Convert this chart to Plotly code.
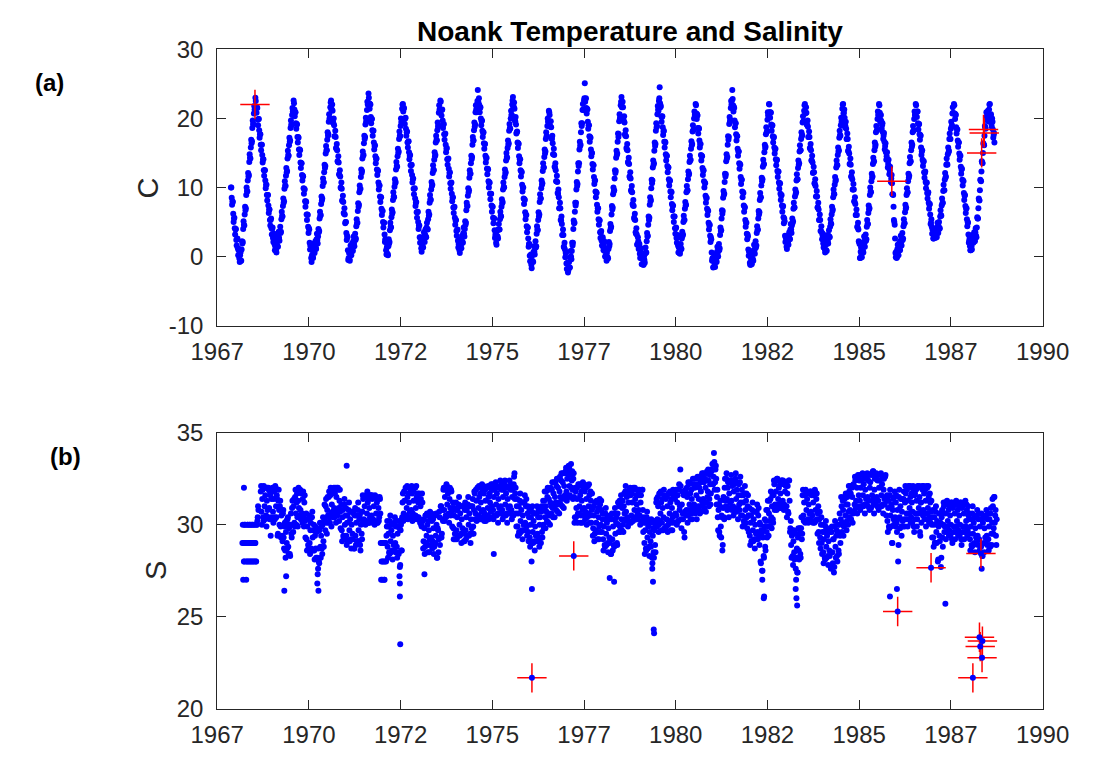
import plotly.graph_objects as go

# ============ data (weekly samples, 48 per year) ============
# Temperature (deg C): main weekly readings
temp_1967 = [10.0, 8.5, 8.0, 6.2, 5.5, 4.1]
temp_1968 = [3.9, 2.4, 2.5, 1.2, 0.9, -0.3, 0.2, -0.6, 1.0, 1.9, 4.0, 4.6, 6.1, 6.7, 8.9, 9.5, 11.0, 11.6, 13.7, 14.3, 15.8, 16.4, 18.6, 19.2, 20.7, 21.3, 23.0, 21.7, 21.6, 19.8, 19.9, 18.3, 17.7, 16.2, 16.2, 14.7, 14.1, 12.5, 12.5, 11.0, 10.4, 8.9, 8.9, 7.4, 6.8, 5.3, 5.3, 4.1]
temp_1969 = [4.0, 2.7, 3.1, 1.8, 1.5, 0.9, 1.8, 1.5, 2.9, 2.7, 3.5, 3.4, 5.4, 5.9, 7.3, 7.8, 9.8, 10.3, 11.7, 12.2, 14.2, 14.7, 16.1, 16.6, 18.6, 19.1, 20.5, 21.0, 22.6, 21.3, 20.9, 19.3, 19.2, 17.3, 17.3, 15.5, 15.5, 13.6, 13.5, 11.8, 11.7, 9.9, 9.8, 8.0, 8.0, 6.1, 6.1, 4.3]
temp_1970 = [4.1, 2.0, 1.6, -0.2, 0.2, 0.0, 1.2, 1.0, 1.5, 1.3, 2.5, 2.4, 2.9, 3.5, 5.5, 5.9, 7.6, 8.1, 10.2, 10.8, 12.2, 12.8, 14.9, 15.4, 16.9, 17.5, 19.5, 20.0, 21.6, 22.6, 21.3, 21.1, 19.3, 19.0, 17.4, 17.3, 15.6, 15.4, 13.7, 13.6, 11.8, 11.6, 9.9, 9.8, 8.0, 7.9, 6.2, 6.1]
temp_1971 = [5.0, 3.4, 3.0, 0.9, -0.2, -0.4, 0.8, 0.7, 1.2, 0.9, 2.2, 1.9, 2.6, 2.4, 4.4, 4.8, 6.6, 7.2, 9.3, 9.7, 11.5, 12.1, 14.2, 14.6, 16.4, 17.0, 19.1, 19.5, 21.2, 22.0, 23.6, 22.2, 22.1, 20.2, 19.9, 18.3, 18.2, 16.5, 16.0, 14.5, 14.1, 12.6, 12.5, 10.7, 10.3, 8.7, 8.6, 6.9]
temp_1972 = [6.6, 5.0, 4.9, 3.2, 2.5, 0.9, 1.3, 0.4, 1.5, 1.9, 3.8, 4.3, 5.7, 6.2, 8.2, 8.7, 10.1, 10.6, 12.6, 13.1, 14.5, 15.0, 17.0, 17.5, 18.9, 19.4, 21.4, 22.1, 21.4, 19.9, 20.0, 18.5, 18.0, 16.5, 16.6, 15.1, 14.6, 13.2, 13.2, 11.8, 11.2, 9.8, 9.8, 8.4, 7.8, 6.4, 6.4, 5.0]
temp_1973 = [4.5, 2.8, 2.7, 1.2, 1.7, 1.4, 2.7, 2.6, 3.2, 2.9, 4.2, 4.0, 5.4, 5.9, 7.8, 8.3, 9.7, 10.2, 12.1, 12.6, 14.0, 14.5, 16.5, 16.9, 18.3, 18.8, 20.8, 21.3, 22.6, 21.2, 21.2, 19.7, 19.1, 17.7, 17.7, 16.2, 15.6, 14.1, 14.1, 12.7, 12.1, 10.6, 10.6, 9.1, 8.5, 7.1, 7.1, 5.6]
temp_1974 = [5.2, 3.7, 3.8, 2.3, 1.8, 0.9, 1.7, 1.7, 2.3, 2.1, 3.4, 3.3, 4.0, 4.6, 6.7, 7.3, 8.8, 9.3, 11.4, 12.0, 13.5, 14.1, 16.2, 16.8, 18.3, 18.8, 20.9, 21.3, 22.0, 24.1, 22.2, 21.9, 21.5, 20.0, 19.6, 18.2, 17.9, 16.4, 16.3, 14.6, 14.2, 12.7, 12.7, 10.9, 10.6, 9.1, 9.1, 7.4]
temp_1975 = [7.2, 5.6, 5.5, 3.8, 3.1, 2.0, 3.0, 2.9, 3.9, 3.9, 5.4, 5.9, 7.2, 7.7, 9.7, 10.1, 11.5, 12.0, 13.9, 14.4, 15.7, 16.2, 18.2, 18.6, 20.0, 20.5, 22.0, 23.1, 21.7, 21.4, 19.6, 19.1, 18.0, 16.5, 16.4, 14.5, 14.1, 12.5, 12.3, 10.4, 10.0, 8.4, 8.3, 6.4, 6.0, 4.4, 4.2, 2.6]
temp_1976 = [1.8, 0.1, 0.1, -1.2, -0.6, -0.7, 0.7, 0.7, 1.4, 1.3, 3.3, 3.9, 5.3, 5.8, 7.9, 8.4, 9.9, 10.4, 12.4, 12.9, 14.4, 14.9, 17.0, 17.4, 18.9, 19.5, 21.1, 20.5, 18.8, 18.7, 17.0, 16.4, 14.8, 14.7, 12.9, 12.5, 10.9, 10.8, 9.1, 8.6, 7.0, 7.0, 5.2, 4.7, 3.1, 3.1, 1.3, 1.0]
temp_1977 = [0.5, -1.0, -1.0, -2.3, -1.6, -1.6, -0.1, 0.0, 0.8, 1.6, 4.0, 4.8, 6.5, 7.4, 9.7, 10.2, 12.3, 13.1, 15.5, 16.0, 18.0, 18.9, 21.2, 21.3, 22.6, 25.1, 22.8, 21.5, 21.4, 19.5, 19.0, 17.4, 17.3, 15.5, 15.0, 13.4, 13.3, 11.5, 11.0, 9.4, 9.3, 7.5, 7.0, 5.4, 5.3, 3.5, 3.4, 2.3]
temp_1978 = [2.5, 1.4, 1.9, 0.8, 0.8, -0.1, 0.5, -0.1, 1.1, 1.5, 3.7, 4.1, 6.1, 6.8, 9.0, 9.4, 11.3, 12.1, 14.3, 14.7, 16.6, 17.3, 19.6, 20.0, 21.9, 23.1, 21.7, 21.6, 19.6, 19.4, 17.5, 17.4, 15.5, 15.4, 13.5, 13.4, 11.4, 11.3, 9.4, 9.3, 7.4, 7.3, 5.4, 5.3, 3.3, 3.2, 1.8, 2.2]
temp_1979 = [1.6, 0.4, 0.9, -0.2, -0.3, -1.0, -1.2, -0.5, 0.4, 0.6, 2.2, 2.9, 4.6, 5.3, 7.5, 8.0, 9.9, 10.6, 12.9, 13.3, 15.3, 16.0, 18.2, 18.7, 20.6, 21.3, 22.5, 24.5, 21.6, 20.3, 20.2, 18.7, 18.1, 16.6, 16.6, 14.8, 14.5, 13.1, 12.9, 11.2, 10.9, 9.4, 9.4, 7.6, 7.3, 5.8, 5.8, 4.1]
temp_1980 = [4.1, 2.7, 3.0, 1.6, 1.3, 0.5, 0.9, 1.2, 2.6, 3.0, 5.0, 5.3, 6.9, 7.4, 9.3, 9.5, 11.2, 11.8, 13.7, 13.9, 15.6, 16.1, 18.1, 18.3, 20.0, 20.5, 22.1, 20.7, 20.6, 18.6, 18.6, 16.8, 16.3, 14.7, 14.6, 12.8, 12.4, 10.9, 10.7, 8.8, 8.4, 6.9, 6.7, 4.9, 4.5, 3.0, 2.8, 0.6]
temp_1981 = [-0.3, -1.6, -0.7, -1.0, -0.4, -0.6, 0.7, 0.5, 1.1, 0.9, 3.1, 3.7, 5.5, 6.2, 8.5, 8.9, 10.8, 11.6, 13.8, 14.2, 16.2, 16.9, 19.2, 19.6, 21.5, 22.0, 24.1, 21.9, 21.7, 19.7, 19.3, 17.7, 17.5, 15.6, 15.2, 13.5, 13.4, 11.5, 11.1, 9.4, 9.3, 7.4, 7.2, 5.3, 4.9, 3.3, 3.2, 1.0]
temp_1982 = [0.7, -0.9, -1.2, -1.0, -0.2, -0.4, 0.9, 0.9, 1.5, 1.3, 3.4, 3.8, 5.5, 6.1, 8.2, 8.5, 10.3, 10.9, 13.0, 13.3, 15.1, 15.7, 17.7, 18.0, 19.8, 20.4, 22.1, 20.9, 20.9, 19.1, 18.9, 17.4, 17.2, 15.8, 15.5, 14.1, 13.9, 12.4, 12.2, 10.7, 10.5, 9.1, 8.8, 7.4, 7.2, 5.7, 5.5, 3.0]
temp_1983 = [2.7, 1.4, 2.3, 2.1, 2.8, 2.6, 3.9, 3.9, 4.5, 4.9, 6.9, 7.1, 8.7, 9.1, 11.0, 11.2, 12.8, 13.3, 15.2, 15.4, 17.0, 17.4, 19.4, 19.6, 21.1, 22.1, 20.8, 20.8, 19.0, 18.8, 17.3, 17.3, 15.6, 15.4, 13.9, 13.6, 12.2, 12.2, 10.5, 10.2, 8.7, 8.7, 7.1, 6.8, 5.3, 5.3, 3.7, 3.5]
temp_1984 = [3.1, 1.9, 2.3, 1.1, 0.9, 0.9, 2.3, 2.3, 3.0, 2.9, 4.3, 4.8, 6.1, 6.6, 8.6, 9.1, 10.4, 10.9, 12.9, 13.3, 14.7, 15.2, 17.2, 17.6, 19.0, 19.5, 21.4, 22.1, 20.8, 20.1, 18.9, 18.5, 17.0, 17.0, 15.2, 14.9, 13.4, 13.3, 11.5, 11.2, 9.7, 9.7, 7.9, 7.6, 6.0, 6.0, 4.2, 3.9]
temp_1985 = [2.1, -0.2, 0.7, 0.3, 1.0, 0.8, 2.1, 2.0, 2.5, 2.3, 4.3, 4.7, 6.3, 6.8, 8.9, 9.4, 10.9, 11.4, 13.4, 13.7, 15.4, 15.9, 18.0, 18.2, 19.9, 20.5, 22.1, 20.8, 19.8, 19.6, 19.0, 18.0, 17.5, 16.6, 16.0, 15.1, 14.5, 14.0, 13.4, 12.9, 12.5, 11.9, 11.3, 10.6, 9.0, 7.2, 5.0, 2.6]
temp_1986 = [-0.1, -0.2, 1.1, 0.7, 1.3, 1.1, 2.3, 2.1, 2.7, 2.4, 4.4, 4.8, 6.4, 6.9, 8.9, 9.2, 10.9, 11.4, 13.5, 13.7, 15.4, 15.9, 18.0, 18.2, 19.9, 20.5, 22.1, 20.9, 21.0, 19.3, 19.1, 17.7, 17.6, 15.8, 15.2, 14.0, 13.7, 12.2, 12.1, 10.8, 10.6, 9.2, 9.1, 7.8, 7.5, 6.1, 4.9, 4.3]
temp_1987 = [3.9, 2.6, 3.3, 2.8, 3.4, 3.0, 4.2, 3.9, 4.4, 4.0, 5.8, 6.0, 7.4, 7.7, 9.5, 9.6, 11.1, 11.4, 13.3, 13.4, 14.8, 15.1, 17.0, 17.0, 18.5, 18.8, 20.7, 20.8, 22.1, 20.7, 20.6, 18.7, 18.4, 16.8, 16.5, 14.9, 14.6, 13.0, 12.6, 11.1, 11.0, 9.2, 8.8, 7.3, 6.9, 5.4, 5.0, 3.2]
temp_1988 = [2.3, 1.5, 0.9, 1.5, 2.0, 2.6, 3.0, 2.4, 3.5, 3.0, 4.2, 5.5, 7.0, 8.2, 9.6, 11.0, 12.3, 13.6, 15.0, 16.2, 17.5, 18.7, 19.8, 20.3, 20.9, 19.6, 21.3, 22.1, 20.4, 19.2, 20.0, 18.4, 17.6, 16.5]

# Temperature: second reading of each week (half a week later)
temp_mid_1967 = [10.0, 7.5, 7.9, 5.0, 5.6, 3.2]
temp_mid_1968 = [4.0, 1.6, 2.6, 0.2, 1.1, -0.8, 0.6, -0.6, 2.2, 2.1, 5.1, 4.5, 7.2, 7.0, 10.0, 9.4, 12.1, 11.8, 14.8, 14.2, 16.9, 16.7, 19.7, 19.1, 21.8, 21.3, 22.5, 20.8, 21.5, 19.0, 19.9, 17.2, 17.7, 15.4, 16.2, 13.6, 14.1, 11.7, 12.5, 9.9, 10.4, 8.1, 8.9, 6.3, 6.8, 4.5, 5.5, 3.2]
temp_mid_1969 = [4.2, 2.1, 3.3, 0.9, 2.0, 0.6, 2.5, 1.4, 3.6, 2.3, 4.3, 3.6, 6.5, 5.8, 8.4, 8.0, 10.9, 10.2, 12.8, 12.4, 15.3, 14.6, 17.2, 16.8, 19.7, 19.0, 21.5, 21.0, 22.2, 20.3, 20.9, 18.5, 19.1, 16.5, 17.2, 14.7, 15.4, 12.8, 13.5, 11.0, 11.6, 9.1, 9.7, 7.2, 7.9, 5.3, 6.0, 3.4]
temp_mid_1970 = [3.9, 1.0, 1.5, -0.8, 0.9, -0.2, 1.9, 0.5, 2.2, 1.1, 3.3, 1.9, 4.0, 3.7, 6.5, 6.0, 8.7, 8.4, 11.3, 10.7, 13.3, 13.1, 16.0, 15.4, 18.0, 17.7, 20.6, 20.0, 22.3, 21.2, 22.0, 19.4, 20.0, 17.4, 18.2, 15.7, 16.3, 13.8, 14.5, 11.9, 12.5, 10.0, 10.7, 8.1, 8.8, 6.3, 7.0, 4.8]
temp_mid_1971 = [5.0, 2.4, 2.8, -0.5, 0.5, -0.6, 1.6, 0.2, 1.9, 0.8, 2.9, 1.5, 3.3, 2.6, 5.4, 4.9, 7.7, 7.5, 10.3, 9.8, 12.6, 12.4, 15.2, 14.7, 17.5, 17.3, 20.1, 19.6, 22.4, 22.0, 23.0, 21.4, 22.0, 19.3, 19.9, 17.5, 18.2, 15.5, 16.1, 13.5, 14.2, 11.8, 12.4, 9.7, 10.3, 7.9, 8.6, 6.0]
temp_mid_1972 = [6.6, 4.2, 4.9, 2.1, 2.5, 0.3, 1.7, 0.2, 2.5, 2.1, 4.9, 4.2, 6.8, 6.4, 9.3, 8.6, 11.2, 10.8, 13.7, 13.0, 15.6, 15.2, 18.1, 17.4, 20.0, 19.6, 22.0, 21.0, 21.5, 19.2, 20.1, 17.5, 18.1, 15.8, 16.7, 14.1, 14.7, 12.4, 13.3, 10.7, 11.3, 9.0, 9.9, 7.3, 7.9, 5.6, 6.5, 4.0]
temp_mid_1973 = [4.5, 2.0, 2.8, 0.7, 2.4, 1.3, 3.5, 2.1, 3.9, 2.8, 4.9, 3.9, 6.5, 6.1, 8.9, 8.2, 10.8, 10.4, 13.2, 12.5, 15.1, 14.7, 17.5, 16.8, 19.4, 19.0, 21.9, 21.2, 22.4, 20.4, 21.3, 18.6, 19.2, 16.9, 17.8, 15.1, 15.7, 13.3, 14.2, 11.6, 12.2, 9.8, 10.7, 8.0, 8.6, 6.3, 7.2, 4.6]
temp_mid_1974 = [5.3, 3.0, 3.9, 1.3, 2.2, 0.5, 2.5, 1.2, 3.0, 2.0, 4.2, 2.9, 5.1, 4.9, 7.8, 7.3, 9.9, 9.6, 12.5, 12.0, 14.6, 14.4, 17.3, 16.8, 19.4, 19.1, 21.9, 20.9, 22.5, 22.4, 22.9, 20.9, 21.6, 19.0, 19.7, 17.3, 18.0, 15.6, 16.3, 13.6, 14.3, 11.9, 12.6, 10.0, 10.7, 8.3, 9.1, 6.5]
temp_mid_1975 = [7.2, 4.8, 5.5, 2.7, 3.4, 1.7, 3.8, 2.6, 4.7, 3.9, 6.5, 5.8, 8.3, 7.9, 10.7, 10.0, 12.6, 12.2, 15.0, 14.3, 16.8, 16.4, 19.2, 18.5, 21.1, 20.5, 22.6, 21.6, 22.3, 19.7, 20.2, 17.8, 18.1, 15.7, 16.3, 13.5, 14.1, 11.6, 12.2, 9.4, 10.0, 7.6, 8.2, 5.4, 6.0, 3.5, 4.2, 1.4]
temp_mid_1976 = [1.8, -0.7, 0.3, -1.7, 0.2, -0.8, 1.5, 0.3, 2.2, 1.5, 4.4, 3.8, 6.4, 6.1, 9.0, 8.4, 11.0, 10.6, 13.5, 12.9, 15.5, 15.2, 18.0, 17.4, 20.0, 19.5, 20.9, 18.9, 19.6, 17.1, 17.5, 14.8, 15.6, 13.0, 13.5, 10.9, 11.7, 9.2, 9.7, 7.0, 7.8, 5.3, 5.8, 3.1, 3.9, 1.4, 2.0, -0.1]
temp_mid_1977 = [0.6, -1.8, -0.9, -2.0, -0.8, -1.6, 0.8, -0.4, 2.0, 2.0, 5.2, 4.9, 7.8, 7.8, 10.8, 10.5, 13.5, 13.5, 16.6, 16.2, 19.3, 19.3, 22.1, 21.2, 22.9, 22.4, 22.9, 20.7, 21.3, 18.5, 19.0, 16.6, 17.2, 14.5, 15.0, 12.6, 13.2, 10.5, 11.0, 8.6, 9.2, 6.5, 7.0, 4.6, 5.2, 2.7, 3.7, 1.6]
temp_mid_1978 = [2.8, 0.9, 2.2, 0.0, 1.2, -0.6, 1.0, -0.3, 2.1, 1.8, 4.7, 4.3, 7.3, 7.1, 10.0, 9.6, 12.5, 12.4, 15.3, 14.9, 17.8, 17.7, 20.6, 20.2, 22.4, 21.6, 22.4, 19.8, 20.3, 17.7, 18.3, 15.7, 16.3, 13.7, 14.3, 11.6, 12.2, 9.6, 10.2, 7.6, 8.2, 5.6, 6.2, 3.5, 4.1, 1.7, 2.8, 1.1]
temp_mid_1979 = [1.8, -0.2, 1.2, -1.1, 0.2, -1.2, 0.0, -0.9, 1.3, 0.6, 3.4, 3.0, 5.8, 5.6, 8.6, 8.2, 11.1, 11.0, 13.9, 13.5, 16.5, 16.3, 19.3, 18.9, 21.8, 21.1, 22.9, 22.2, 21.8, 19.5, 20.3, 17.6, 18.2, 15.8, 16.5, 13.9, 14.6, 12.2, 12.9, 10.3, 11.0, 8.6, 9.3, 6.7, 7.4, 5.0, 5.8, 3.3]
temp_mid_1980 = [4.2, 2.0, 3.1, 0.6, 1.7, 0.4, 1.8, 1.1, 3.6, 3.2, 5.9, 5.3, 7.9, 7.5, 10.2, 9.6, 12.3, 12.0, 14.6, 14.0, 16.7, 16.3, 19.0, 18.4, 21.0, 20.5, 21.9, 19.9, 20.4, 17.8, 18.5, 15.8, 16.3, 13.9, 14.5, 11.8, 12.5, 10.0, 10.6, 7.8, 8.5, 6.0, 6.6, 3.9, 4.6, 2.1, 2.5, -0.6]
temp_mid_1981 = [-0.2, -1.5, 0.0, -1.5, 0.3, -0.8, 1.4, 0.0, 1.8, 1.2, 4.2, 3.8, 6.7, 6.6, 9.5, 9.1, 12.0, 11.9, 14.8, 14.4, 17.4, 17.3, 20.2, 19.8, 22.5, 22.6, 22.8, 21.0, 21.5, 18.7, 19.3, 16.8, 17.4, 14.6, 15.2, 12.7, 13.3, 10.5, 11.1, 8.6, 9.2, 6.5, 7.1, 4.3, 4.9, 2.5, 2.9, 0.1]
temp_mid_1982 = [0.7, -1.2, -0.3, -1.1, 0.5, -0.6, 1.7, 0.4, 2.2, 1.6, 4.4, 3.9, 6.6, 6.4, 9.2, 8.6, 11.4, 11.2, 14.0, 13.4, 16.2, 15.9, 18.7, 18.1, 20.9, 20.5, 22.0, 20.1, 20.8, 18.2, 19.0, 16.5, 17.3, 14.9, 15.6, 13.2, 14.0, 11.5, 12.3, 9.8, 10.6, 8.2, 8.9, 6.5, 7.3, 4.8, 5.1, 2.1]
temp_mid_1983 = [2.9, 1.1, 3.0, 1.7, 3.5, 2.5, 4.7, 3.4, 5.5, 5.1, 7.8, 7.1, 9.7, 9.3, 11.9, 11.2, 13.9, 13.5, 16.1, 15.4, 18.0, 17.6, 20.3, 19.6, 21.9, 20.7, 21.6, 19.1, 19.7, 17.3, 18.1, 15.7, 16.3, 13.9, 14.6, 12.1, 13.0, 10.6, 11.2, 8.7, 9.5, 7.1, 7.8, 5.3, 6.1, 3.7, 4.4, 2.5]
temp_mid_1984 = [3.3, 1.3, 2.5, 0.6, 1.7, 0.8, 3.1, 1.9, 3.8, 2.8, 5.4, 4.7, 7.2, 6.8, 9.7, 9.0, 11.5, 11.1, 13.9, 13.2, 15.8, 15.4, 18.2, 17.5, 20.1, 19.7, 22.0, 20.7, 21.3, 18.7, 19.5, 17.0, 17.8, 15.3, 15.9, 13.4, 14.2, 11.6, 12.2, 9.7, 10.5, 8.0, 8.6, 6.0, 6.8, 4.3, 4.9, 2.2]
temp_mid_1985 = [1.8, -0.2, 1.3, -0.1, 1.7, 0.6, 2.9, 1.4, 3.2, 2.5, 5.3, 4.7, 7.4, 7.0, 10.0, 9.3, 12.0, 11.6, 14.3, 13.8, 16.5, 16.2, 18.9, 18.3, 21.0, 20.5, 21.9, 19.5, 20.5, 18.5, 19.3, 17.0, 17.9, 15.5, 16.4, 14.0, 15.1, 12.9, 14.0, 11.9, 13.0, 10.8, 11.8, 9.0, 8.9, 5.3, 4.6, 0.5]
temp_mid_1986 = [0.7, -0.1, 1.7, 0.2, 2.0, 0.9, 3.0, 1.6, 3.4, 2.6, 5.4, 4.8, 7.5, 7.1, 9.9, 9.3, 12.0, 11.7, 14.4, 13.8, 16.5, 16.2, 18.9, 18.3, 21.0, 20.5, 21.9, 20.2, 21.0, 18.4, 19.2, 16.9, 17.5, 14.7, 15.4, 13.1, 13.8, 11.4, 12.3, 9.9, 10.7, 8.4, 9.3, 6.9, 7.6, 4.7, 5.4, 3.3]
temp_mid_1987 = [4.1, 2.6, 3.9, 2.7, 4.0, 2.8, 4.9, 3.4, 5.0, 4.1, 6.7, 5.9, 8.4, 7.8, 10.4, 9.6, 12.1, 11.6, 14.2, 13.3, 15.8, 15.3, 17.8, 17.0, 19.5, 19.0, 21.6, 20.7, 21.9, 19.9, 20.5, 17.8, 18.4, 15.9, 16.5, 14.0, 14.6, 12.0, 12.7, 10.3, 10.9, 8.2, 8.9, 6.3, 7.0, 4.4, 4.9, 2.0]
temp_mid_1988 = [2.7, 0.9, 2.0, 1.0, 3.1, 2.0, 3.5, 2.2, 4.1, 2.8, 5.7, 5.5, 8.4, 8.1, 11.1, 10.9, 13.8, 13.5, 16.4, 16.1, 18.9, 18.5, 20.9, 19.8, 21.1, 19.7, 22.0, 20.5, 20.6, 18.8, 19.5, 17.2, 17.9]

# Salinity: main weekly readings (None = no sample)
sal_1968 = [29, 27, 28, 30, 29, 27, 28, 30, 29, 28, 30, 29, 28, 30, 29, 28, 30, 29, 28, 30, 30.4, 30.8, None, None, 31.8, 30.7, 31.4, 30.4, 32.1, 31.0, 31.6, 30.5, 31.3, 30.8, 32.0, 30.9, 31.8, 29.4, 31.4]
sal_1969 = [31.8, 30.7, 31.4, 30.4, 32.1, 31.0, 31.6, 29.4, 31.3, 30.8, 31.0, 29.9, 30.5, 29.4, 30.6, 29.3, 29.9, 28.6, 29.6, 29.0, 30.3, 28.8, 29.8, 28.4, 30.0, 29.5, 30.9, 30.0, 31.0, 30.1, 31.5, 30.6, 31.2, 30.4, 31.3, 30.9, 31.9, 30.8, 31.7, 30.6, 31.4, 30.5, 31.2, 30.2, 30.3, 29.2, 29.9, 28.9]
sal_1970 = [30.3, 29.0, 29.7, 28.7, 30.4, 29.3, 29.7, 28.6, 29.4, 28.7, 29.6, 28.2, 27.6, 28.0, 29.7, 28.8, 29.4, 28.7, 30.0, 29.1, 30.2, 30.3, 31.0, 30.1, 30.8, 30.5, 31.5, 30.4, 31.6, 30.6, 31.1, 30.7, 31.9, 30.9, 31.7, 30.6, 31.5, 30.8, 32.0, 30.9, 31.3, 30.7, 30.8, 29.7, 30.4, 29.4, 31.1, 30.0]
sal_1971 = [30.5, 29.4, 30.1, 29.1, 30.8, 29.7, 30.3, 29.2, 30.0, 29.5, 30.7, 28.7, 30.5, 29.4, 30.1, 29.1, 30.8, 29.7, 30.3, 28.9, 30.0, 29.5, 30.7, 31.4, 30.3, 31.0, 30.0, 31.5, 30.6, 31.2, 30.1, 30.9, 30.4, 31.6, 30.5, 31.4, 30.3, 31.0, 30.0, 31.5, 30.6, 31.2, 30.1, 30.9, 30.4, 31.4, 29, 28]
sal_1972 = [27, 29, 28, 27, 29, 28, 29.9, 28.8, 29.5, 28.5, 30.2, 29.1, 29.7, 28.6, 29.4, 28.9, 30.1, 29.0, 29.9, 28.8, 29.5, 28.5, 30.2, 27.7, 29.7, 28.6, 30.4, 31.7, 30.6, 31.3, 30.3, 32.0, 30.9, 31.5, 30.4, 31.2, 30.7, 31.9, 30.8, 31.7, 30.6, 31.3, 30.3, 32.0, 30.9, 31.5, 30.4, 31.2]
sal_1973 = [31.4, 30.3, 31.0, 30.0, 31.7, 30.2, 29.1, 29.8, 28.8, 30.5, 29.4, 30.0, 28.9, 29.7, 29.2, 30.4, 29.3, 30.2, 29.1, 29.8, 28.8, 30.5, 29.4, 30.0, 28.2, 29.7, 29.2, 30.4, 29.3, 31.0, 29.5, 30.3, 31.9, 30.8, 31.5, 30.5, 32.2, 31.1, 31.7, 30.6, 31.4, 30.9, 31.9, 30.7, 30.9, 29.8, 30.5, 29.5]
sal_1974 = [30.8, 29.7, 30.4, 29.4, 31.1, 30.0, 30.6, 29.5, 30.3, 29.8, 31.0, 29.1, 30.8, 29.7, 30.4, 29.4, 31.1, 30.0, 30.6, 29.5, 30.3, 29.8, 31.0, 29.9, 30.8, 31.7, 30.6, 31.3, 30.3, 32.0, 30.9, 31.5, 30.4, 31.2, 30.7, 31.9, 30.8, 31.7, 30.6, 31.3, 30.3, 32.0, 30.9, 31.5, 30.4, 31.2, 30.7, 31.9]
sal_1975 = [31.9, 30.8, 31.5, 30.5, 32.2, 31.1, 31.7, 30.6, 31.4, 30.9, 32.1, 31.0, 31.9, 30.8, 31.5, 30.5, 32.2, 31.1, 31.7, 30.6, 31.4, 30.9, 32.1, 31.0, 31.9, 30.8, 31.5, 30.5, 32.2, 32.8, 31.7, 30.6, 31.0, 29.9, 30.6, 29.6, 31.3, 30.2, 30.8, 29.7, 30.5, 30.0, 31.2, 30.1, 31.0, 29.9, 30.6, 29.6]
sal_1976 = [30.4, 29.3, 30.0, 29.0, 30.7, 29.6, 30.2, 29.1, 29.9, 29.4, 30.6, 29.5, 30.4, 29.3, 30.0, 29.0, 30.7, 29.6, 30.8, 30.0, 31.3, 30.4, 31.0, 30.7, 31.5, 30.6, 31.4, 30.5, 31.2, 31.0, 31.9, 30.9, 31.7, 31.0, 31.5, 31.2, 32.1, 31.1, 32.0, 31.2, 31.8, 31.5, 32.4, 31.4, 32.3, 31.5, 32.1, 31.6]
sal_1977 = [32.9, 31.8, 32.5, 31.5, 33.2, 32.1, 32.7, 33.3, 32.4, 31.9, 32.5, 31.5, 30.4, 31.8, 30.9, 31.4, 30.6, 32.1, 31.0, 31.6, 30.5, 31.3, 30.8, 32.0, 30.9, 31.8, 30.7, 31.4, 30.4, 32.1, 31.0, 31.6, 30.5, 31.3, 30.8, 30.9, 29.8, 30.5, 29.5, 31.2, 30.1, 30.7, 29.6, 30.4, 29.9, 31.1, 30.0, 30.8]
sal_1978 = [30.3, 29.2, 29.9, 28.9, 30.6, 29.5, 30.1, 29.0, 29.8, 29.3, 30.5, 28.4, 30.3, 29.2, 29.9, 28.9, 30.6, 29.5, 30.1, 29.0, 30.6, 30.0, 31.0, 29.9, 31.1, 30.3, 30.9, 30.0, 31.0, 30.6, 31.8, 30.7, 31.5, 30.4, 31.2, 30.2, 31.9, 31.6, 30.5, 31.2, 30.2, 31.9, 30.8, 31.4, 30.3, 31.1, 30.6, 31.8]
sal_1979 = [31.6, 30.5, 31.2, 30.2, 31.9, 30.8, 30.1, 29.0, 29.7, 28.7, 30.4, 29.3, 29.9, 28.8, 29.6, 29.1, 30.3, 28.2, 29.4, 28.5, 29.7, 28.9, 30.0, 31.4, 30.3, 31.0, 30.0, 31.7, 30.6, 31.2, 30.1, 30.9, 30.4, 31.6, 29.8, 31.4, 30.3, 31.0, 30.0, 31.7, 30.6, 31.2, 30.1, 30.9, 30.4, 31.6, 30.5, 31.4]
sal_1980 = [31.6, 30.5, 31.2, 30.2, 31.9, 30.8, 33.0, 30.3, 31.1, 30.6, 31.8, 29.6, 30.7, 31.9, 30.8, 31.5, 30.5, 32.2, 31.1, 31.7, 30.6, 31.4, 31.0, 32.2, 31.1, 32.0, 30.9, 31.6, 30.8, 32.5, 31.4, 32.0, 31.0, 31.8, 31.3, 32.5, 31.4, 32.3, 31.2, 32.0, 31.2, 32.9, 31.8, 32.4, 31.4, 32.2, 31.7, 32.9]
sal_1981 = [33.3, 32.2, 33.9, 31.9, 33.0, 32.5, 31.5, 30.4, 30.8, 29.6, 31.0, 29.9, 30.5, 28.6, 30.9, 30.4, 32.0, 31.3, 32.5, 31.4, 32.0, 30.9, 31.7, 31.2, 32.4, 31.3, 32.1, 31.0, 31.8, 30.8, 32.5, 31.4, 31.9, 30.9, 31.6, 31.1, 32.3, 31.2, 31.6, 30.5, 31.2, 30.2, 31.7, 30.8, 31.3, 30.4, 31.0, 30.5]
sal_1982 = [30.5, 29.4, 30.1, 29.1, 30.8, 29.7, 30.3, 29.2, 30.0, 29.5, 30.7, 29.6, 30.5, 29.4, 30.1, 28.0, 29.7, 27.5, 29.3, 28.3, 29.9, 28.8, 30.2, 29.6, 30.8, 29.9, 30.6, 30.2, 31.4, 30.4, 31.0, 30.3, 31.6, 32.2, 31.1, 31.8, 30.8, 32.5, 31.4, 32.0, 30.9, 31.7, 31.2, 32.4, 31.3, 32.2, 31.1, 31.8]
sal_1983 = [32.1, 31.0, 31.7, 30.7, 32.4, 31.3, 29.8, 28.9, 29.4, 28.3, 29.1, 28.5, 29.6, 27.6, 28.2, 27.4, 29.3, 28.6, 29.5, 28.4, 29.8, 29.2, 31.6, 30.5, 31.2, 30.2, 31.9, 30.8, 31.4, 30.3, 31.1, 30.6, 31.8, 30.7, 31.6, 30.5, 31.2, 30.2, 31.9, 30.8, 31.4, 30.3, 30.6, 29.6, 30.3, 29.3, 30.0, 29.0]
sal_1984 = [29.6, 28.5, 29.2, 28.2, 29.9, 28.8, 29.4, 28.3, 29.1, 28.6, 29.8, 27.6, 29.6, 28.5, 29.2, 27.4, 29.9, 28.8, 29.4, 28.3, 29.6, 28.6, 30.0, 29.4, 30.3, 31.0, 30.1, 30.8, 29.9, 31.4, 30.5, 31.1, 30.2, 31.1, 30.7, 31.8, 30.8, 31.7, 30.7, 31.5, 30.6, 32.1, 31.1, 32.4, 31.3, 32.0, 31.0, 32.6]
sal_1985 = [32.4, 31.3, 32.0, 31.0, 32.7, 31.6, 32.2, 31.1, 31.9, 31.4, 32.6, 31.5, 32.4, 31.3, 32.0, 30.9, 32.7, 31.6, 32.9, 31.1, 31.9, 31.4, 32.6, 31.5, 32.4, 31.3, 32.0, 31.0, 32.7, 31.6, 32.2, 31.1, 31.9, 31.4, 32.6, 31.5, 31.3, 30.2, 30.9, 29.9, 31.6, 30.5, 31.1, 29.0, 30.8, 30.3, 31.5, 30.4]
sal_1986 = [31.2, 30.1, 30.8, 28.0, 31.5, 30.4, 31.0, 29.9, 30.7, 30.2, 31.4, 30.3, 31.2, 31.7, 30.6, 31.3, 30.3, 32.0, 30.9, 31.5, 30.4, 31.2, 30.7, 31.9, 29.6, 31.7, 30.6, 31.3, 30.3, 32.0, 30.9, 31.5, 29.4, 31.2, 30.7, 31.9, 30.8, 31.7, 30.6, 31.3, 30.3, 32.0, 30.9, 31.5, 30.4, 31.2, 30.7, 30.0]
sal_1987 = [30.4, 29.3, 30.0, 29.0, 30.7, 29.6, 30.2, 28.0, 29.9, 29.4, 30.6, 27.7, 30.4, 29.3, 30.0, 31.0, 29.9, 30.6, 29.6, 31.3, 30.2, 30.8, 29.7, 30.5, 30.0, 31.2, 29.0, 31.0, 29.9, 30.6, 29.6, 31.3, 30.2, 30.8, 29.7, 30.5, 30.0, 31.2, 28.9, 31.0, 29.9, 30.6, 29.6, 31.3, 30.2, 30.8, 29.7, 30.5]
sal_1988 = [30.3, 29.2, 29.9, 28.9, 30.6, 29.5, 30.1, 29.0, 29.8, 29.3, 30.5, 29.4, 30.3, 29.2, 29.9, 28.9, 30.6, 28.3, 30.1, 29.0, 29.8, 29.3, 30.5, 29.4, 30.3, 29.2, 29.9, 28.9, 30.6, 29.5, 30.1, 31.0, 29.8, 31.5, 30.5, 29.4, 30.3]

# Salinity: second reading of each week
sal_mid_1968 = [30, 29, 28, 30, 29, 28, 30, 29, 28, 30, 29, 28, 30, 29, 28, 30, 29, 28, 30, 30.2, 31.0, None, None, None, 32.1, 30.0, 31.9, 30.2, 32.0, 30.3, 32.0, 29.9, 32.0, 30.4, 31.9, 30.3, 31.6, 30.4, 31.9]
sal_mid_1969 = [32.0, 30.1, 31.8, 30.3, 32.0, 30.4, 31.4, 29.5, 31.9, 30.0, 31.3, 29.3, 30.8, 29.1, 30.8, 28.7, 30.1, 28.2, 30.2, 28.7, 30.4, 28.4, 30.0, 28.3, 30.6, 29.3, 31.3, 29.6, 31.4, 29.9, 31.9, 30.0, 31.7, 29.9, 32.0, 30.5, 31.9, 30.3, 31.8, 30.1, 31.8, 29.9, 31.6, 29.3, 30.6, 28.6, 30.3, 28.7]
sal_mid_1970 = [30.5, 28.4, 30.1, 28.6, 30.7, 28.6, 30.0, 28.1, 29.9, 28.2, 29.8, 27.3, 28.7, 27.9, 30.1, 28.2, 29.9, 28.4, 30.4, 28.8, 31.1, 29.7, 31.4, 29.5, 31.5, 30.1, 31.8, 30.1, 32.0, 29.9, 31.8, 30.4, 32.0, 30.4, 32.0, 30.1, 32.0, 30.5, 31.9, 30.2, 31.9, 29.8, 31.1, 29.1, 30.8, 29.3, 31.4, 29.3]
sal_mid_1971 = [30.9, 28.9, 30.5, 29.1, 31.2, 29.1, 30.7, 28.7, 30.7, 29.2, 30.6, 28.7, 30.9, 28.9, 30.5, 29.1, 31.2, 29.1, 30.5, 28.6, 30.7, 29.2, 31.6, 30.1, 31.5, 30.2, 31.6, 30.2, 31.8, 30.1, 31.4, 30.1, 31.6, 30.2, 31.6, 30.1, 31.5, 30.1, 31.6, 30.2, 31.5, 30.1, 31.4, 30.2, 31.5, 30.6, 27, 29]
sal_mid_1972 = [28, 29, 27, 28, 29, 29.4, 30.2, 28.2, 29.9, 28.4, 30.5, 28.5, 30.0, 28.1, 30.0, 28.6, 30.4, 28.5, 30.2, 28.2, 29.9, 28.4, 29.8, 27.8, 30.0, 28.6, 31.2, 30.2, 31.8, 30.3, 32.0, 30.5, 32.1, 30.3, 31.7, 30.4, 32.0, 30.4, 32.1, 30.2, 31.8, 30.3, 32.0, 30.5, 32.1, 30.3, 31.7, 30.4]
sal_mid_1973 = [31.7, 30.1, 31.4, 29.9, 31.2, 28.7, 30.3, 28.4, 30.5, 29.0, 30.6, 28.5, 30.2, 28.5, 30.7, 28.9, 30.6, 28.7, 30.3, 28.4, 30.5, 29.0, 30.6, 28.2, 29.8, 28.5, 30.7, 28.9, 31.0, 29.3, 30.8, 30.2, 32.0, 30.2, 31.9, 30.4, 32.1, 30.5, 32.0, 30.1, 32.0, 30.5, 31.8, 29.9, 31.2, 29.2, 30.9, 29.2]
sal_mid_1974 = [31.2, 29.2, 30.8, 29.4, 31.5, 29.4, 31.0, 29.0, 31.0, 29.5, 31.0, 29.1, 31.2, 29.2, 30.8, 29.4, 31.5, 29.4, 31.0, 29.0, 31.0, 29.5, 31.4, 29.5, 31.8, 30.3, 31.9, 30.2, 32.0, 30.5, 32.1, 30.3, 31.7, 30.3, 32.2, 30.4, 32.1, 30.2, 31.9, 30.2, 32.0, 30.5, 32.1, 30.3, 31.7, 30.4, 32.2, 31.0]
sal_mid_1975 = [32.2, 30.3, 31.9, 30.5, 32.3, 30.5, 32.0, 30.1, 32.0, 30.6, 32.4, 30.6, 32.2, 30.3, 31.9, 30.5, 32.4, 30.5, 32.0, 30.1, 32.0, 30.6, 32.4, 30.6, 32.2, 30.3, 31.9, 30.5, 32.6, 31.4, 32.0, 29.9, 31.4, 29.4, 31.0, 29.5, 31.7, 29.6, 31.2, 29.2, 31.2, 29.7, 31.6, 29.7, 31.4, 29.4, 31.0, 29.1]
sal_mid_1976 = [30.8, 28.8, 30.4, 29.0, 31.0, 29.0, 30.6, 28.6, 30.6, 29.1, 31.0, 29.1, 30.8, 28.8, 30.4, 29.0, 31.0, 29.3, 31.3, 29.8, 31.8, 29.8, 31.8, 30.2, 32.0, 30.1, 31.9, 30.0, 32.0, 30.6, 32.3, 30.4, 32.3, 30.4, 32.3, 30.8, 32.5, 30.7, 32.5, 30.6, 32.6, 31.1, 32.8, 31.0, 32.8, 30.9, 32.8, 31.4]
sal_mid_1977 = [33.1, 31.3, 32.8, 31.5, 33.1, 31.6, 32.9, 32.0, 32.9, 31.4, 32.8, 30.1, 32.0, 30.4, 32.0, 30.1, 32.2, 30.6, 32.2, 30.1, 31.8, 30.1, 32.3, 30.5, 32.2, 30.3, 32.0, 30.0, 32.1, 30.6, 32.2, 30.1, 31.8, 30.1, 31.7, 29.4, 31.0, 29.1, 31.2, 29.7, 31.3, 29.2, 30.9, 29.2, 31.4, 29.6, 31.3, 29.6]
sal_mid_1978 = [30.6, 28.6, 30.3, 28.8, 30.9, 28.9, 30.4, 28.5, 30.4, 29.0, 30.3, 28.4, 30.6, 28.6, 30.3, 28.8, 30.9, 28.9, 30.4, 28.9, 31.2, 29.6, 31.3, 29.6, 31.6, 29.7, 31.3, 29.6, 31.7, 30.3, 32.1, 30.2, 31.8, 29.9, 31.6, 30.1, 32.0, 30.1, 31.7, 30.2, 32.0, 30.4, 32.0, 30.3, 31.6, 30.3, 31.9, 30.8]
sal_mid_1979 = [31.9, 30.0, 31.6, 30.2, 31.9, 29.6, 30.4, 28.4, 30.1, 28.6, 30.7, 28.7, 30.2, 28.3, 30.2, 28.8, 30.1, 27.9, 29.8, 28.2, 30.2, 28.5, 31.2, 29.9, 31.5, 29.6, 31.7, 30.2, 31.8, 29.7, 31.4, 29.7, 31.9, 29.8, 31.5, 29.9, 31.5, 29.6, 31.7, 30.2, 31.8, 29.7, 31.4, 29.7, 31.9, 30.1, 31.8, 30.6]
sal_mid_1980 = [31.9, 30.0, 31.6, 30.2, 32.2, 31.0, 32.1, 29.8, 31.8, 30.3, 31.6, 29.3, 31.7, 30.5, 32.0, 30.1, 32.3, 30.8, 32.3, 30.3, 31.9, 30.3, 32.5, 30.8, 32.5, 30.6, 32.2, 30.3, 32.6, 31.0, 32.6, 30.6, 32.3, 30.7, 32.8, 31.1, 32.8, 30.9, 32.5, 30.7, 32.8, 31.5, 33.0, 31.0, 32.7, 31.1, 33.0, 32.2]
sal_mid_1981 = [33.3, 32.6, 33.4, 32.3, 33.2, 31.1, 31.9, 29.7, 31.1, 29.4, 31.3, 29.3, 30.4, 28.9, 31.5, 30.3, 32.5, 31.0, 32.8, 30.8, 32.3, 30.4, 32.3, 30.9, 32.7, 30.8, 32.4, 30.5, 32.2, 30.7, 32.8, 30.7, 32.3, 30.3, 32.2, 30.8, 32.6, 30.5, 31.9, 29.9, 31.6, 30.0, 32.1, 30.1, 31.7, 29.8, 31.6, 29.6]
sal_mid_1982 = [30.9, 28.9, 30.5, 29.1, 31.2, 29.1, 30.7, 28.7, 30.7, 29.2, 31.1, 29.2, 30.9, 28.9, 30.0, 27.9, 29.5, 27.5, 29.7, 28.2, 30.3, 28.6, 30.8, 29.3, 31.3, 29.4, 31.3, 29.9, 31.8, 29.8, 31.6, 30.1, 32.4, 30.8, 32.4, 30.9, 32.5, 31.1, 32.4, 30.9, 32.2, 30.9, 32.4, 30.9, 32.4, 30.8, 32.3, 31.0]
sal_mid_1983 = [32.3, 30.4, 32.1, 30.6, 32.4, 29.6, 30.2, 28.2, 29.7, 27.8, 29.7, 28.1, 29.5, 27.0, 28.7, 27.4, 29.8, 28.1, 29.8, 28.2, 30.4, 29.5, 31.9, 30.2, 31.6, 30.1, 31.8, 30.2, 31.7, 30.1, 31.7, 30.3, 31.8, 30.2, 31.7, 30.1, 31.6, 30.1, 31.8, 30.2, 31.7, 29.5, 31.0, 29.0, 30.7, 28.7, 30.4, 28.4]
sal_mid_1984 = [30.0, 27.9, 29.6, 28.1, 30.2, 28.2, 29.7, 27.8, 29.7, 28.3, 29.6, 27.7, 29.9, 27.9, 29.2, 27.7, 30.2, 28.2, 29.7, 28.0, 30.0, 28.4, 30.6, 29.0, 31.5, 29.6, 31.3, 29.4, 31.5, 30.0, 31.7, 29.7, 31.5, 30.0, 32.1, 30.4, 32.1, 30.3, 32.0, 30.1, 32.2, 30.7, 32.6, 30.9, 32.5, 30.6, 32.7, 31.6]
sal_mid_1985 = [32.7, 30.8, 32.4, 31.0, 32.8, 31.0, 32.5, 30.6, 32.5, 31.1, 32.8, 31.0, 32.7, 30.8, 32.3, 30.9, 32.8, 31.3, 32.9, 30.6, 32.5, 31.1, 32.8, 31.0, 32.7, 30.8, 32.4, 31.0, 32.8, 31.0, 32.5, 30.6, 32.5, 31.1, 32.7, 30.5, 31.6, 29.6, 31.3, 29.8, 31.9, 29.9, 31.0, 29.0, 31.4, 30.0, 31.8, 29.9]
sal_mid_1986 = [31.6, 29.6, 30.3, 28.9, 31.9, 29.8, 31.4, 29.4, 31.4, 29.9, 31.8, 29.9, 32.1, 30.3, 31.9, 29.9, 32.1, 30.6, 32.1, 30.1, 31.7, 30.1, 32.1, 29.9, 31.6, 30.3, 31.9, 29.9, 32.1, 30.6, 32.1, 29.6, 31.2, 30.1, 32.1, 30.5, 32.1, 30.3, 31.9, 29.9, 32.1, 30.6, 32.1, 30.1, 31.7, 30.1, 31.3, 29.3]
sal_mid_1987 = [30.8, 28.8, 30.4, 29.0, 31.0, 29.0, 30.0, 28.1, 30.6, 29.1, 30.1, 28.2, 30.8, 28.8, 31.2, 29.6, 31.2, 29.2, 31.2, 29.9, 31.1, 29.4, 31.0, 29.4, 31.2, 29.2, 30.9, 29.6, 31.2, 29.2, 31.2, 29.9, 31.1, 29.4, 31.0, 29.4, 31.2, 29.2, 30.9, 29.6, 31.2, 29.2, 31.2, 29.9, 31.1, 29.4, 31.0, 29.5]
sal_mid_1988 = [30.6, 28.6, 30.3, 28.8, 31.0, 28.9, 30.4, 28.5, 30.4, 29.0, 30.8, 28.9, 30.6, 28.6, 30.3, 28.8, 30.3, 28.3, 30.4, 28.5, 30.4, 29.0, 30.8, 28.9, 30.6, 28.6, 30.3, 28.8, 30.9, 28.9, 31.4, 29.5, 31.5, 30.1, 30.8, 28.9]

# isolated salinity readings
sal_extra_t = [1968.23, 1969.33, 1969.38, 1970.23, 1970.26, 1971.03, 1972.47, 1972.48, 1972.48, 1972.49,
               1973.15, 1975.04, 1976.07, 1976.08, 1978.20, 1978.32, 1979.36, 1979.38, 1979.40, 1979.41,
               1982.36, 1982.40, 1982.41, 1983.27, 1983.29, 1983.31, 1985.84, 1986.03, 1987.35, 1988.34]
sal_extra_s = [32.0, 26.4, 27.2, 26.8, 26.4, 33.2, 27.2, 26.8, 26.1, 23.5,
               27.3, 28.4, 28.0, 26.5, 27.1, 26.9, 27.6, 26.9, 24.3, 24.1,
               27.0, 26.0, 26.1, 26.5, 26.0, 25.6, 26.1, 26.5, 25.7, 27.6]

# flagged (red cross) samples
temp_flag_t = [1968.53, 1985.89, 1988.34, 1988.39, 1988.41]
temp_flag_c = [22.0, 10.9, 15.0, 18.4, 17.9]
sal_flag_t = [1976.08, 1977.22, 1986.05, 1986.96, 1988.10, 1988.28, 1988.30, 1988.32, 1988.35, 1988.36]
sal_flag_s = [21.67, 28.30, 25.28, 27.66, 21.67, 23.88, 23.37, 28.43, 22.77, 23.67]

tick_vals = [1967.5, 1970, 1972.5, 1975, 1977.5, 1980, 1982.5, 1985, 1987.5, 1990]
tick_text = ["1967", "1970", "1972", "1975", "1977", "1980", "1982", "1985", "1987", "1990"]
temp_ticks = [-10, 0, 10, 20, 30]
temp_tick_text = ["-10", "0", "10", "20", "30"]
sal_ticks = [20, 25, 30, 35]
sal_tick_text = ["20", "25", "30", "35"]

# (year, first week index, values) groupings
temp_series = [(1967, 42, temp_1967), (1968, 0, temp_1968), (1969, 0, temp_1969), (1970, 0, temp_1970),
               (1971, 0, temp_1971), (1972, 0, temp_1972), (1973, 0, temp_1973), (1974, 0, temp_1974),
               (1975, 0, temp_1975), (1976, 0, temp_1976), (1977, 0, temp_1977), (1978, 0, temp_1978),
               (1979, 0, temp_1979), (1980, 0, temp_1980), (1981, 0, temp_1981), (1982, 0, temp_1982),
               (1983, 0, temp_1983), (1984, 0, temp_1984), (1985, 0, temp_1985), (1986, 0, temp_1986),
               (1987, 0, temp_1987), (1988, 0, temp_1988)]
temp_mid_series = [(1967, 42, temp_mid_1967), (1968, 0, temp_mid_1968), (1969, 0, temp_mid_1969),
                   (1970, 0, temp_mid_1970), (1971, 0, temp_mid_1971), (1972, 0, temp_mid_1972),
                   (1973, 0, temp_mid_1973), (1974, 0, temp_mid_1974), (1975, 0, temp_mid_1975),
                   (1976, 0, temp_mid_1976), (1977, 0, temp_mid_1977), (1978, 0, temp_mid_1978),
                   (1979, 0, temp_mid_1979), (1980, 0, temp_mid_1980), (1981, 0, temp_mid_1981),
                   (1982, 0, temp_mid_1982), (1983, 0, temp_mid_1983), (1984, 0, temp_mid_1984),
                   (1985, 0, temp_mid_1985), (1986, 0, temp_mid_1986), (1987, 0, temp_mid_1987),
                   (1988, 0, temp_mid_1988)]
sal_series = [(1968, 9, sal_1968), (1969, 0, sal_1969), (1970, 0, sal_1970), (1971, 0, sal_1971),
              (1972, 0, sal_1972), (1973, 0, sal_1973), (1974, 0, sal_1974), (1975, 0, sal_1975),
              (1976, 0, sal_1976), (1977, 0, sal_1977), (1978, 0, sal_1978), (1979, 0, sal_1979),
              (1980, 0, sal_1980), (1981, 0, sal_1981), (1982, 0, sal_1982), (1983, 0, sal_1983),
              (1984, 0, sal_1984), (1985, 0, sal_1985), (1986, 0, sal_1986), (1987, 0, sal_1987),
              (1988, 0, sal_1988)]
sal_mid_series = [(1968, 9, sal_mid_1968), (1969, 0, sal_mid_1969), (1970, 0, sal_mid_1970),
                  (1971, 0, sal_mid_1971), (1972, 0, sal_mid_1972), (1973, 0, sal_mid_1973),
                  (1974, 0, sal_mid_1974), (1975, 0, sal_mid_1975), (1976, 0, sal_mid_1976),
                  (1977, 0, sal_mid_1977), (1978, 0, sal_mid_1978), (1979, 0, sal_mid_1979),
                  (1980, 0, sal_mid_1980), (1981, 0, sal_mid_1981), (1982, 0, sal_mid_1982),
                  (1983, 0, sal_mid_1983), (1984, 0, sal_mid_1984), (1985, 0, sal_mid_1985),
                  (1986, 0, sal_mid_1986), (1987, 0, sal_mid_1987), (1988, 0, sal_mid_1988)]


def weekly(series, shift=0.0):
    t, v = [], []
    for year, first, vals in series:
        for k, val in enumerate(vals):
            t.append(year + (first + k + shift) / 48.0)
            v.append(val)
    return t, v


temp_t, temp_v = weekly(temp_series)
temp_t2, temp_v2 = weekly(temp_mid_series, 0.5)
sal_t, sal_v = weekly(sal_series)
sal_t2, sal_v2 = weekly(sal_mid_series, 0.5)

all_temp_t = temp_t + temp_t2
all_temp_v = temp_v + temp_v2
all_sal_t = sal_t + sal_t2 + sal_extra_t
all_sal_v = sal_v + sal_v2 + sal_extra_s

BLUE = "#0000FF"
RED = "#FF0000"
INK = "#262626"
FONT = "Liberation Sans, Arial, Helvetica, sans-serif"

fig = go.Figure()
dot = dict(color=BLUE, size=6, line=dict(width=0))
cross = dict(symbol="cross-thin", size=21, color=RED, line=dict(color=RED, width=1.5))

fig.add_trace(go.Scatter(x=all_temp_t, y=all_temp_v, mode="markers", marker=dot, xaxis="x", yaxis="y"))
fig.add_trace(go.Scatter(x=temp_flag_t, y=temp_flag_c, mode="markers", marker=cross, xaxis="x", yaxis="y"))

fig.add_trace(go.Scatter(x=all_sal_t, y=all_sal_v, mode="markers", marker=dot, xaxis="x2", yaxis="y2"))
fig.add_trace(go.Scatter(x=sal_flag_t, y=sal_flag_s, mode="markers", marker=cross, xaxis="x2", yaxis="y2"))
fig.add_trace(go.Scatter(x=sal_flag_t, y=sal_flag_s, mode="markers", marker=dict(color=BLUE, size=6),
                         xaxis="x2", yaxis="y2"))

W, H = 1100, 765
axis_common = dict(showline=True, linecolor=INK, linewidth=1, mirror="ticks", ticks="inside", ticklen=9,
                   tickwidth=1, tickcolor=INK, showgrid=False, zeroline=False,
                   tickfont=dict(family=FONT, size=24, color=INK))
x_dom = [200 / W, 1068 / W]

fig.update_layout(
    width=W, height=H, margin=dict(l=0, r=0, t=0, b=0),
    paper_bgcolor="white", plot_bgcolor="white", showlegend=False,
    xaxis=dict(domain=x_dom, range=[1967.5, 1990], tickvals=tick_vals, ticktext=tick_text, anchor="y",
               ticklabelstandoff=5, **axis_common),
    yaxis=dict(domain=[(H - 323) / H, (H - 36.6) / H], range=[-10, 30], tickvals=temp_ticks,
               ticktext=temp_tick_text, anchor="x", ticklabelstandoff=8, **axis_common),
    xaxis2=dict(domain=x_dom, range=[1967.5, 1990], tickvals=tick_vals, ticktext=tick_text, anchor="y2",
                ticklabelstandoff=5, **axis_common),
    yaxis2=dict(domain=[(H - 720) / H, (H - 434) / H], range=[20, 35], tickvals=sal_ticks,
                ticktext=sal_tick_text, anchor="x2", ticklabelstandoff=8, **axis_common),
    annotations=[
        dict(text="<b>Noank Temperature and Salinity</b>", x=634 / W, y=(H - 18.5) / H, xref="paper", yref="paper",
             xanchor="center", yanchor="middle", showarrow=False, font=dict(family=FONT, size=28, color="black")),
        dict(text="<b>(a)</b>", x=24 / W, y=(H - 71) / H, xref="paper", yref="paper",
             xanchor="center", yanchor="middle", showarrow=False, font=dict(family=FONT, size=24, color="black")),
        dict(text="<b>(b)</b>", x=40 / W, y=(H - 459) / H, xref="paper", yref="paper",
             xanchor="center", yanchor="middle", showarrow=False, font=dict(family=FONT, size=24, color="black")),
        dict(text="C", x=127 / W, y=(H - 180) / H, xref="paper", yref="paper", textangle=-90,
             xanchor="center", yanchor="middle", showarrow=False, font=dict(family=FONT, size=29, color=INK)),
        dict(text="S", x=135 / W, y=(H - 577) / H, xref="paper", yref="paper", textangle=-90,
             xanchor="center", yanchor="middle", showarrow=False, font=dict(family=FONT, size=29, color=INK)),
    ],
)

fig.write_html("out.html")
